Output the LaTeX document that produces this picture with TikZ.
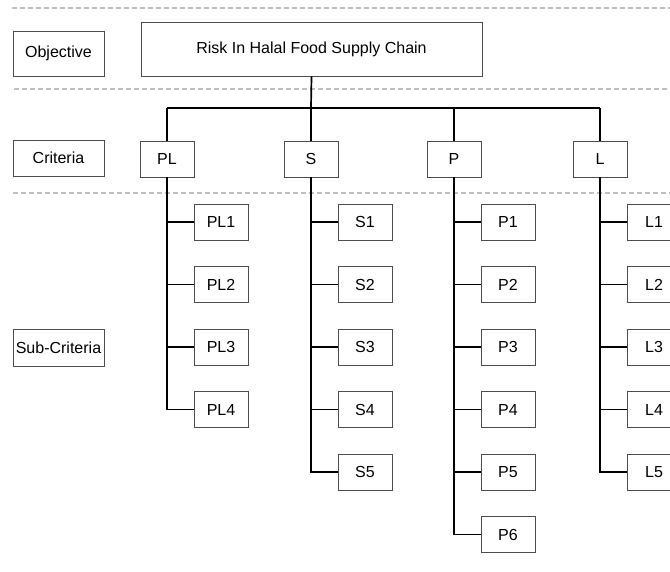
\documentclass[tikz,border=0pt]{standalone}
\usepackage{fontspec}
\setmainfont{Liberation Sans}
\usetikzlibrary{positioning}

\begin{document}
\begin{tikzpicture}[x=1pt,y=-1pt,
	box/.style={draw=black!70,line width=0.9pt,minimum width=54pt,minimum height=36pt,inner sep=0pt,font=\fontsize{16}{19}\selectfont},
	level/.style={box,minimum width=91pt},
	link/.style={line width=1.7pt},
	sep/.style={draw=black!25,dash pattern=on 5pt off 3pt,line width=1.1pt}]
	\def\dy{62.5} % distance between sub-criteria
	\def\dx{54}   % shift of sub-criteria from their line
	
	\useasboundingbox (0,0) rectangle (670,572);
	\clip (0,0) rectangle (670,572);
	
	\draw[sep] (12,8) -- (670,8);
	\draw[sep] (14,89) -- (670,89);
	\draw[sep] (13,193) -- (670,193);
	
	\node[level,minimum height=45pt] (objective) at (58.5,53.5) {Objective};
	\node[level] (criteria) at (58.5,158) {Criteria};
	\node[level,minimum height=37pt] (subcriteria) at (58.5,347.5) {Sub-Criteria};
	
	\node[box,minimum width=341pt,minimum height=54pt] (risk) at (311.5,49) {Risk In Halal Food Supply Chain};
	\coordinate (bar) at (311,108);
	
	\foreach \name/\x/\n in {PL/167/4,S/311/5,P/454/6,L/600/5} {
		\node[box] (\name) at (\x,159) {\name};
		\foreach \i in {1,...,\n}
			\node[box] (\name\i) at (\x+\dx,222+\dy*\i-\dy) {\name\i};
		\draw[link] (\name.north) -- (\name.north |- bar);
		\draw[link] (\name.south) |- (\name\n.west);
		\foreach \i in {1,...,\n}
			\draw[link] (\name\i.west) -- (\name\i.west -| \name.south);
	}
	\draw[link] (risk.south) -- (bar);
	\draw[link] (PL.north |- bar) -- (L.north |- bar);
\end{tikzpicture}
\end{document}
